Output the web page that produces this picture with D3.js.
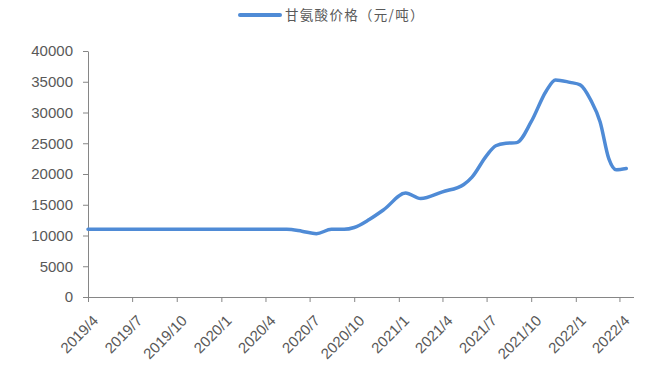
<!DOCTYPE html>
<meta charset="utf-8">
<head>
<style>
  body { margin: 0; background: #fff; font-family: "Noto Sans CJK SC", "Liberation Sans", sans-serif; }
  .axis text { fill: #595959; font-family: "Liberation Sans", sans-serif; font-size: 15px; }
  .axis path, .axis line { stroke: #868686; }
</style>
</head>
<body>
<script src="https://d3js.org/d3.v7.min.js"></script>
<script>

// chart size
var width = 648,
    height = 366;

// data (date, price in yuan/ton)
var dates = ["2019-04-01", "2020-05-15", "2020-06-15", "2020-07-15", "2020-08-15", "2020-09-10",
  "2020-10-01", "2020-11-01", "2020-12-01", "2021-01-15", "2021-02-15", "2021-04-01",
  "2021-05-15", "2021-06-01", "2021-07-01", "2021-07-20", "2021-08-10", "2021-09-01",
  "2021-10-01", "2021-11-01", "2021-11-20", "2021-12-20", "2022-01-10", "2022-02-01",
  "2022-02-20", "2022-03-10", "2022-03-25", "2022-04-15"];
var prices = [11000, 11000, 10700, 10300, 11000, 11000,
  11300, 12600, 14200, 16900, 16000, 17100,
  18300, 19500, 23000, 24600, 25000, 25100,
  28500, 33500, 35300, 34900, 34500, 32000,
  28500, 22500, 20700, 20900];
var xTicks = ["2019/4", "2019/7", "2019/10", "2020/1", "2020/4", "2020/7", "2020/10",
  "2021/1", "2021/4", "2021/7", "2021/10", "2022/1", "2022/4"];
var yTicks = [0, 5000, 10000, 15000, 20000, 25000, 30000, 35000, 40000];
var seriesName = "甘氨酸价格（元/吨）";

var parse = d3.timeParse("%Y-%m-%d");
var data = dates.map(function(d, i){ return {date: parse(d), value: prices[i]}; });

var margin = {left: 88, right: 14, top: 51, bottom: 69};

var x = d3.scaleTime()
    .domain([new Date(2019, 3, 1), new Date(2022, 4, 1)])
    .range([margin.left, width - margin.right]);

var y = d3.scaleLinear()
    .domain([0, 40000])
    .range([height - margin.bottom, margin.top]);

var svg = d3.select("body").append("svg")
    .attr("width", width)
    .attr("height", height);

//y axis
svg.append("g")
    .attr("class", "axis")
    .attr("transform", "translate(" + margin.left + ",0)")
    .call(d3.axisLeft(y).tickValues(yTicks).tickFormat(d3.format("d"))
      .tickSize(5).tickSizeOuter(0).tickPadding(10));

//x axis
var tickDates = xTicks.map(function(t){
  var p = t.split("/");
  return new Date(+p[0], +p[1] - 1, 1);
});
var xAxis = svg.append("g")
    .attr("class", "axis")
    .attr("transform", "translate(0," + y(0) + ")")
    .call(d3.axisBottom(x).tickValues(tickDates).tickSize(5).tickSizeOuter(0)
      .tickFormat(function(d, i){ return xTicks[i]; }));
xAxis.select(".domain").attr("d", "M" + margin.left + ",0.5H" + (width - margin.right));
xAxis.selectAll("text")
    .attr("text-anchor", "end")
    .attr("y", 0)
    .attr("dy", "0.35em")
    .attr("transform", "translate(7,21) rotate(-45)");

//price line
var line = d3.line()
    .x(function(d){ return x(d.date); })
    .y(function(d){ return y(d.value); })
    .curve(d3.curveMonotoneX);

svg.append("path")
    .datum(data)
    .attr("fill", "none")
    .attr("stroke", "#4f8bd6")
    .attr("stroke-width", 3.5)
    .attr("stroke-linecap", "round")
    .attr("d", line);

//legend
var legend = svg.append("g").attr("transform", "translate(240,15)");
legend.append("line")
    .attr("x1", 0).attr("x2", 40)
    .attr("stroke", "#4f8bd6").attr("stroke-width", 4).attr("stroke-linecap", "round");
legend.append("text")
    .attr("x", 45).attr("dy", "0.35em")
    .attr("fill", "#595959")
    .style("font-size", "13.5px")
    .style("letter-spacing", "1.3px")
    .text(seriesName);

</script>
</body>
